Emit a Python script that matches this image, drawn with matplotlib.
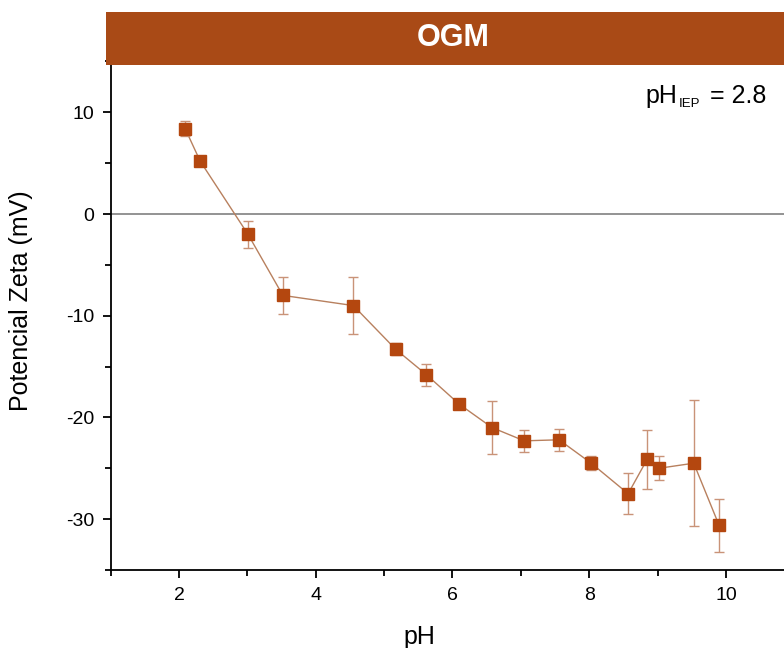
import matplotlib
matplotlib.use('Agg')
import matplotlib.pyplot as plt
from matplotlib.patches import Rectangle
from matplotlib.ticker import MultipleLocator

plt.rcParams['font.family'] = ['Liberation Sans', 'DejaVu Sans']
plt.rcParams['axes.unicode_minus'] = False

# Zeta potential vs pH
ph = [2.09, 2.31, 3.01, 3.52, 4.55, 5.17, 5.62, 6.10, 6.58, 7.05, 7.56,
      8.03, 8.57, 8.85, 9.02, 9.53, 9.90]
zeta = [8.4, 5.2, -2.0, -8.0, -9.0, -13.3, -15.8, -18.7, -21.0, -22.3, -22.2,
        -24.5, -27.5, -24.1, -25.0, -24.5, -30.6]
zeta_err = [0.7, 0.3, 1.3, 1.8, 2.8, 0.6, 1.1, 0.4, 2.6, 1.1, 1.1,
            0.7, 2.0, 2.9, 1.2, 6.2, 2.6]

title = 'OGM'
iep_value = '= 2.8'

header_color = '#a94a16'
marker_color = '#b4470f'
line_color = '#b8805e'
err_color = '#c99378'

W, H = 784, 648
fig = plt.figure(figsize=(W / 100, H / 100), dpi=100, facecolor='white')
ax = fig.add_axes([0.1411, 0.1204, 0.8589, 0.7847])

ax.axhline(0, color='#808080', linewidth=1.2, zorder=1)
ax.plot(ph, zeta, color=line_color, linewidth=1.0, zorder=2)
ax.errorbar(ph, zeta, yerr=zeta_err, fmt='none', ecolor=err_color,
            elinewidth=1.0, capsize=3.6, capthick=1.0, zorder=3)
ax.plot(ph, zeta, linestyle='none', marker='s', markersize=8.5,
        color=marker_color, markeredgecolor=marker_color, zorder=4)

ax.set_xlim(1, 10.85)
ax.set_ylim(-35, 15)
ax.xaxis.set_major_locator(MultipleLocator(2))
ax.xaxis.set_minor_locator(MultipleLocator(1))
ax.yaxis.set_major_locator(MultipleLocator(10))
ax.yaxis.set_minor_locator(MultipleLocator(5))

for side in ['top', 'right']:
    ax.spines[side].set_visible(False)
for side in ['left', 'bottom']:
    ax.spines[side].set_linewidth(1.3)
ax.tick_params(which='major', direction='out', length=6, width=1.3,
               labelsize=14, pad=6)
ax.tick_params(which='minor', direction='out', length=4, width=1.3)

ax.set_xlabel('pH', fontsize=18)
ax.xaxis.set_label_coords(0.458, -0.108)
ax.set_ylabel('Potencial Zeta (mV)', fontsize=18)
ax.yaxis.set_label_coords(-0.1152, 0.53)

# pH_IEP annotation, built from pieces so the subscript sits low and small
fig.text(645 / W, 1 - 103 / H, 'pH', fontsize=18, va='baseline', ha='left')
fig.text(679 / W, 1 - 107 / H, 'IEP', fontsize=9.5, va='baseline', ha='left')
fig.text(710 / W, 1 - 103 / H, iep_value, fontsize=18, va='baseline', ha='left')

# Header bar drawn over the top of the axes
bar = Rectangle((0.135, 0.8997), 0.865, 0.0818, transform=fig.transFigure,
                facecolor=header_color, edgecolor='none', zorder=5)
fig.patches.append(bar)
fig.text(0.578, 0.9406, title, ha='center', va='center', fontsize=22,
         fontweight='bold', color='white', zorder=6)

fig.savefig('out.png', dpi=100, facecolor='white')
